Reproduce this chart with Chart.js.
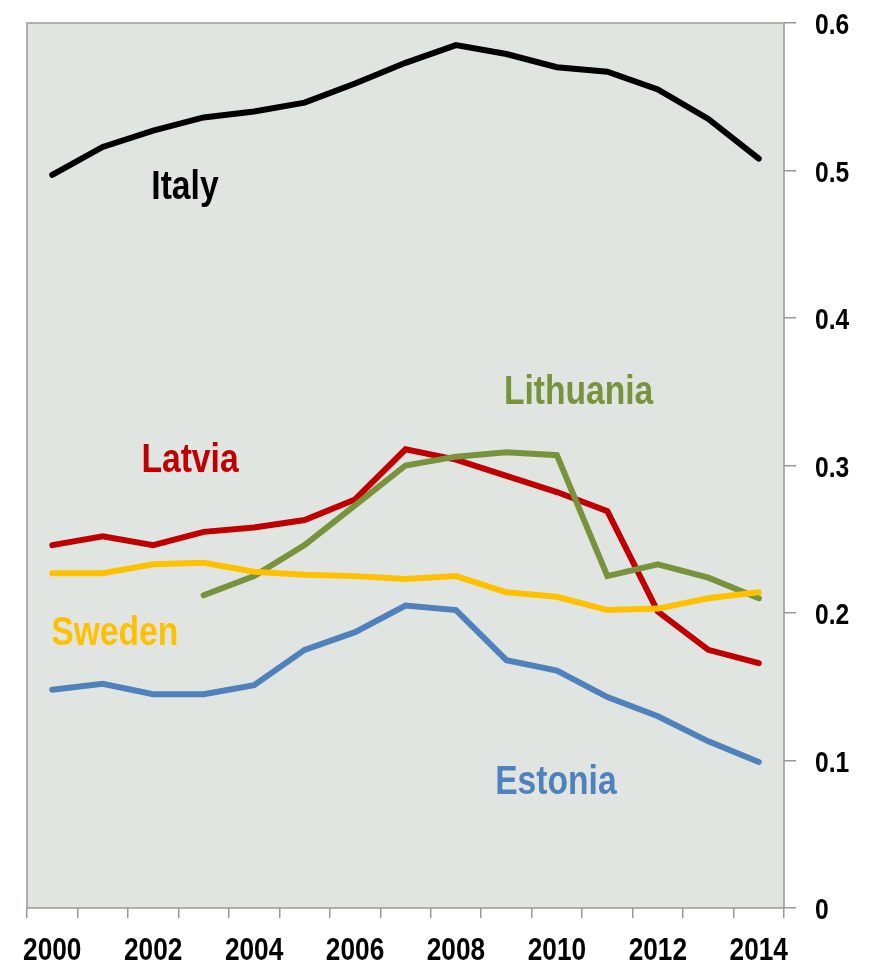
<!DOCTYPE html>
<html>
<head>
<meta charset="utf-8">
<script src="https://cdn.jsdelivr.net/npm/chart.js@4.4.1/dist/chart.umd.min.js"></script>
<style>
    html, body { margin: 0; padding: 0; background: #fff; }
    #wrap { width: 879px; height: 964px; }
</style>
</head>
<body>
<div id="wrap"><canvas id="chart" width="879" height="964"></canvas></div>
<script>
const years = ['2000', '2001', '2002', '2003', '2004', '2005', '2006', '2007',
    '2008', '2009', '2010', '2011', '2012', '2013', '2014'];

const italy = [0.497, 0.516, 0.527, 0.536, 0.540, 0.546, 0.559, 0.573,
    0.585, 0.579, 0.570, 0.567, 0.555, 0.535, 0.508];
const latvia = [0.246, 0.252, 0.246, 0.255, 0.258, 0.263, 0.277, 0.311,
    0.304, 0.293, 0.282, 0.269, 0.201, 0.175, 0.166];
const lithuania = [null, null, null, 0.212, 0.225, 0.246, 0.273, 0.300,
    0.306, 0.309, 0.307, 0.225, 0.233, 0.224, 0.210];
const sweden = [0.227, 0.227, 0.233, 0.234, 0.228, 0.226, 0.225, 0.223,
    0.225, 0.214, 0.211, 0.202, 0.203, 0.210, 0.214];
const estonia = [0.148, 0.152, 0.145, 0.145, 0.151, 0.175, 0.187, 0.205,
    0.202, 0.168, 0.161, 0.143, 0.130, 0.113, 0.099];

const yTicks = [0, 0.1, 0.2, 0.3, 0.4, 0.5, 0.6];
const yTickLabels = ['0', '0.1', '0.2', '0.3', '0.4', '0.5', '0.6'];

const FONT = '"Liberation Sans", Arial, sans-serif';
const SQUEEZE = 0.82; // the original uses a narrow bold face

// series name labels, placed in data coordinates (category index, value)
const seriesLabels = [
    { text: 'Italy', color: '#000000', x: 2.63, y: 0.4805 },
    { text: 'Latvia', color: '#C00000', x: 2.73, y: 0.2955 },
    { text: 'Lithuania', color: '#77933C', x: 10.43, y: 0.3414 },
    { text: 'Sweden', color: '#FFC000', x: 1.24, y: 0.1780 },
    { text: 'Estonia', color: '#4F81BD', x: 9.98, y: 0.0774 }
];

function narrowText(ctx, text, x, y, align) {
    ctx.save();
    ctx.translate(x, y);
    ctx.scale(SQUEEZE, 1);
    ctx.textAlign = align;
    ctx.fillText(text, 0, 0);
    ctx.restore();
}

const plotBackground = {
    id: 'plotBackground',
    beforeDraw(chart) {
        const { ctx, chartArea: a } = chart;
        ctx.save();
        ctx.fillStyle = '#E1E5E2';
        ctx.fillRect(a.left, a.top, a.right - a.left, a.bottom - a.top);
        ctx.strokeStyle = '#999999';
        ctx.lineWidth = 1.5;
        ctx.strokeRect(a.left, a.top, a.right - a.left, a.bottom - a.top);
        ctx.restore();
    }
};

const textLayer = {
    id: 'textLayer',
    afterDraw(chart) {
        const { ctx, scales, chartArea: a } = chart;
        ctx.save();
        ctx.textBaseline = 'alphabetic';
        ctx.fillStyle = '#000';

        ctx.font = 'bold 32px ' + FONT;
        years.forEach((y, i) => {
            if (i % 2 === 0) narrowText(ctx, y, scales.x.getPixelForValue(i), a.bottom + 52, 'center');
        });

        ctx.font = 'bold 30px ' + FONT;
        yTicks.forEach((v, i) => {
            narrowText(ctx, yTickLabels[i], a.right + 31, scales.y.getPixelForValue(v) + 11, 'left');
        });

        ctx.font = 'bold 41px ' + FONT;
        for (const l of seriesLabels) {
            ctx.fillStyle = l.color;
            narrowText(ctx, l.text, scales.x.getPixelForValue(l.x), scales.y.getPixelForValue(l.y), 'center');
        }
        ctx.restore();
    }
};

function line(data, color) {
    return {
        data,
        borderColor: color,
        backgroundColor: color,
        borderWidth: 6,
        borderCapStyle: 'round',
        borderJoinStyle: 'miter',
        pointRadius: 0,
        tension: 0,
        spanGaps: false
    };
}

new Chart(document.getElementById('chart'), {
    type: 'line',
    data: {
        labels: years,
        datasets: [
            line(sweden, '#FFC000'),
            line(estonia, '#4F81BD'),
            line(lithuania, '#77933C'),
            line(latvia, '#C00000'),
            line(italy, '#000000')
        ]
    },
    options: {
        responsive: false,
        animation: false,
        layout: { padding: { top: 23, left: 27, right: 0, bottom: 0 } },
        plugins: { legend: { display: false }, tooltip: { enabled: false } },
        scales: {
            x: {
                offset: true,
                grid: {
                    offset: true,
                    drawOnChartArea: false,
                    tickLength: 10,
                    color: '#999999',
                    lineWidth: 1.5
                },
                border: { display: false },
                ticks: { display: false, autoSkip: false },
                afterFit(scale) { scale.height = 56; }
            },
            y: {
                position: 'right',
                min: 0,
                max: 0.6,
                afterBuildTicks(scale) { scale.ticks = yTicks.map((v) => ({ value: v })); },
                grid: {
                    drawOnChartArea: false,
                    tickLength: 12,
                    color: '#999999',
                    lineWidth: 1.5
                },
                border: { display: false },
                ticks: { display: false },
                afterFit(scale) { scale.width = 95; }
            }
        }
    },
    plugins: [plotBackground, textLayer]
});
</script>
</body>
</html>
